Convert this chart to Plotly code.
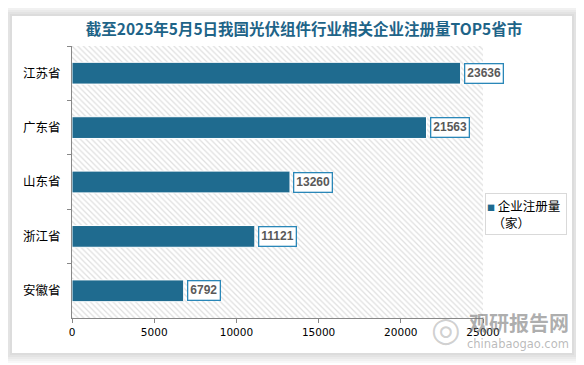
import plotly.graph_objects as go

# ---- data ----
provinces = ["江苏省", "广东省", "山东省", "浙江省", "安徽省"]
registrations = [23636, 21563, 13260, 11121, 6792]
series_name = "企业注册量（家）"
title_text = "截至2025年5月5日我国光伏组件行业相关企业注册量TOP5省市"
x_ticks = [0, 5000, 10000, 15000, 20000, 25000]
x_tick_labels = ["0", "5000", "10000", "15000", "20000", "25000"]

# page body has an 8px default margin -> figure is offset by 8px
OFF = 8
W, H = 584 - OFF, 365 - OFF
ML, MT = 72 - OFF, 46 - OFF
MR = W - (483 - OFF)
MB = H - (318 - OFF)
PW, PH = W - ML - MR, H - MT - MB

def px(x):
    return (x - OFF - ML) / PW

def py(y):
    return (H - MB - (y - OFF)) / PH

BAR = "#1f6b8f"
CJK = "Noto Sans CJK SC"

fig = go.Figure()

# hatched plot-area background (decoration on hidden base axes)
fig.add_trace(go.Scatter(
    x=[0, 1, 1, 0, 0], y=[0, 0, 1, 1, 0], xaxis="x", yaxis="y",
    mode="none", fill="toself", fillcolor="rgba(0,0,0,0)",
    fillpattern=dict(shape="\\", fgcolor="#bfbfbf", bgcolor="white", size=4, solidity=0.32),
    hoverinfo="skip", showlegend=False,
))

# bars
fig.add_trace(go.Bar(
    x=registrations, y=provinces, orientation="h", xaxis="x2", yaxis="y2",
    width=0.4, marker=dict(color=BAR, line=dict(color="white", width=1)),
    name=series_name, showlegend=False,
))

annotations = []
for p, v in zip(provinces, registrations):
    annotations.append(dict(
        x=v, y=p, xref="x2", yref="y2", text=f"<b>{v}</b>", showarrow=False,
        xanchor="left", yanchor="middle", xshift=3,
        font=dict(family="Liberation Sans", size=12, color="#595959"),
        bgcolor="white", bordercolor="#2a87b8", borderwidth=1.3, borderpad=2,
    ))

# legend box (manual)
annotations.append(dict(
    x=px(485), y=py(193), xref="paper", yref="paper", xanchor="left", yanchor="top",
    text=f'<span style="color:{BAR};font-size:8px">■</span> 企业注册量<br>  （家）',
    showarrow=False, align="left", width=78, height=38,
    font=dict(family=CJK, size=12.5, color="black"),
    bgcolor="white", bordercolor="#d9d9d9", borderwidth=1, borderpad=1,
))

# watermark
annotations.append(dict(
    x=px(571), y=py(322), xref="paper", yref="paper", xanchor="right", yanchor="middle",
    text="<b>观研报告网</b>", showarrow=False,
    font=dict(family=CJK, size=20, color="rgba(120,120,120,0.6)"),
))
annotations.append(dict(
    x=px(571), y=py(344), xref="paper", yref="paper", xanchor="right", yanchor="middle",
    text="chinabaogao.com", showarrow=False,
    font=dict(family="DejaVu Sans", size=11.5, color="rgba(140,140,140,0.6)"),
))
annotations.append(dict(
    x=px(446), y=py(329), xref="paper", yref="paper", xanchor="center", yanchor="middle",
    text="◎", showarrow=False,
    font=dict(family="DejaVu Sans", size=34, color="rgba(150,150,150,0.45)"),
))

# card + shadow
shapes = []
cx0, cx1, cy0, cy1 = 12, 572, 16, 353
for k in range(5, 0, -1):
    d = 2 * k
    shapes.append(dict(type="rect", xref="paper", yref="paper", layer="below",
                       x0=px(cx0 - d), x1=px(cx1 + d), y0=py(cy1 + d), y1=py(cy0 - d),
                       fillcolor="rgba(0,0,0,0.028)", line=dict(width=0)))
shapes.append(dict(type="rect", xref="paper", yref="paper", layer="below",
                   x0=px(cx0), x1=px(cx1), y0=py(cy1), y1=py(cy0),
                   fillcolor="white", line=dict(width=0)))

fig.update_layout(
    width=W, height=H,
    margin=dict(l=ML, r=MR, t=MT, b=MB, pad=0, autoexpand=False),
    paper_bgcolor="white", plot_bgcolor="white",
    title=dict(text=f"<b>{title_text}</b>", x=(304 - OFF) / W, y=1 - (30 - OFF) / H,
               xref="container", yref="container", xanchor="center", yanchor="middle",
               font=dict(family=CJK, size=15.5, color="#1e6488")),
    xaxis=dict(range=[0, 1], visible=False, fixedrange=True, automargin=False),
    yaxis=dict(range=[0, 1], visible=False, fixedrange=True, automargin=False),
    xaxis2=dict(overlaying="x", anchor="y2", range=[0, 25000], tickvals=x_ticks,
                ticktext=x_tick_labels, automargin=False,
                showgrid=False, zeroline=False, showline=True, linecolor="#888888", linewidth=1,
                ticks="outside", ticklen=4, tickcolor="#888888",
                tickfont=dict(family="DejaVu Sans", size=10.5, color="black")),
    yaxis2=dict(overlaying="y", anchor="x2", side="left", categoryorder="array",
                categoryarray=provinces, autorange="reversed", tickson="boundaries",
                automargin=False,
                showgrid=False, zeroline=False, showline=True, linecolor="#888888", linewidth=1,
                ticks="outside", ticklen=4, tickcolor="#888888", ticklabelstandoff=8,
                tickfont=dict(family=CJK, size=12.5, color="black")),
    annotations=annotations, shapes=shapes, showlegend=False,
)

fig.write_html("out.html")
